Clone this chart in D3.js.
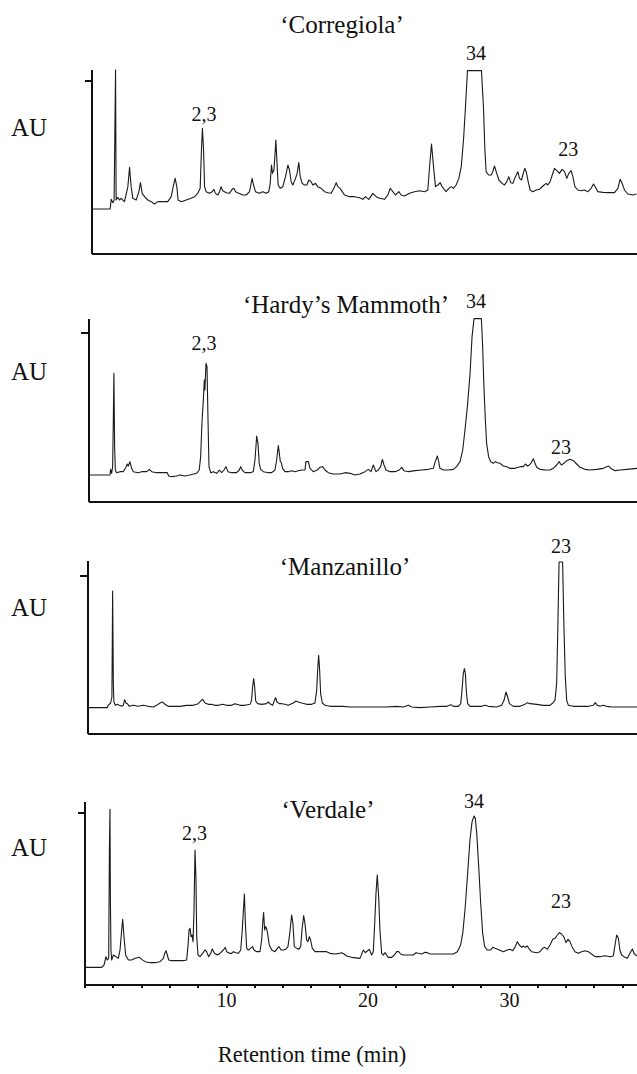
<!DOCTYPE html>
<html lang="en">
<head>
<meta charset="UTF-8">
<title>Chromatograms</title>
<script src="https://d3js.org/d3.v7.min.js"></script>
<style>
  body { margin: 0; background: #fff; }
  svg { display: block; font-family: "Liberation Serif", "Tinos", "Times New Roman", "DejaVu Serif", serif; }
  text { fill: #111; }
  .axis path, .axis line { stroke: #111; stroke-width: 2; shape-rendering: crispEdges; }
  .axis text { font-size: 20px; font-family: "Liberation Serif", "Tinos", "Times New Roman", "DejaVu Serif", serif; fill: #111; }
  .trace { fill: none; stroke: #1a1a1a; stroke-width: 1.1; stroke-linejoin: round; }
</style>
</head>
<body>
<div id="chart"></div>
<script>
const serif = "'Liberation Serif', 'Tinos', 'Times New Roman', 'DejaVu Serif', serif";

// cultivar names
const cultivars = ["\u2018Corregiola\u2019", "\u2018Hardy\u2019s Mammoth\u2019", "\u2018Manzanillo\u2019", "\u2018Verdale\u2019"];

// traces: [retention time (min), absorbance (AU)]
const corregiola = [
  [0,0.264],[1.32,0.264],[1.39,0.322],[1.51,0.302],[1.60,0.318],[1.65,0.718],[1.70,1.098],[1.74,0.318],
  [1.86,0.334],[1.98,0.318],[2.10,0.328],[2.33,0.308],[2.57,0.398],[2.69,0.514],[2.80,0.398],[2.92,0.328],
  [3.16,0.318],[3.35,0.368],[3.46,0.422],[3.58,0.358],[3.75,0.338],[3.98,0.318],[4.22,0.308],[4.45,0.294],
  [4.69,0.308],[5.04,0.308],[5.39,0.308],[5.63,0.338],[5.80,0.408],[5.91,0.448],[6.03,0.398],[6.12,0.318],
  [6.34,0.308],[6.69,0.318],[7.04,0.328],[7.28,0.338],[7.51,0.358],[7.68,0.388],[7.77,0.618],[7.84,0.748],
  [7.92,0.618],[7.99,0.398],[8.10,0.368],[8.34,0.358],[8.53,0.368],[8.65,0.382],[8.76,0.358],[8.93,0.348],
  [9.05,0.368],[9.16,0.398],[9.28,0.374],[9.52,0.362],[9.75,0.358],[9.94,0.382],[10.06,0.388],[10.18,0.368],
  [10.41,0.358],[10.70,0.348],[10.93,0.348],[11.17,0.368],[11.26,0.408],[11.35,0.448],[11.45,0.408],[11.59,0.368],
  [11.87,0.358],[12.11,0.368],[12.34,0.358],[12.53,0.368],[12.63,0.418],[12.72,0.528],[12.79,0.478],[12.89,0.498],
  [12.96,0.578],[13.03,0.678],[13.10,0.558],[13.19,0.408],[13.33,0.388],[13.52,0.398],[13.71,0.458],[13.88,0.528],
  [13.99,0.498],[14.11,0.428],[14.23,0.408],[14.42,0.448],[14.53,0.478],[14.65,0.542],[14.75,0.458],[14.89,0.418],
  [15.05,0.408],[15.22,0.408],[15.36,0.438],[15.52,0.428],[15.64,0.408],[15.83,0.418],[15.99,0.398],[16.23,0.388],
  [16.47,0.368],[16.70,0.362],[16.94,0.358],[17.13,0.388],[17.29,0.422],[17.41,0.398],[17.57,0.388],[17.72,0.368],
  [17.88,0.348],[18.23,0.338],[18.59,0.338],[18.94,0.332],[19.18,0.322],[19.36,0.338],[19.60,0.322],[19.88,0.358],
  [20.12,0.338],[20.35,0.328],[20.71,0.322],[20.94,0.348],[21.11,0.388],[21.30,0.368],[21.48,0.348],[21.72,0.368],
  [21.88,0.348],[22.12,0.342],[22.47,0.358],[22.83,0.368],[23.18,0.374],[23.53,0.368],[23.77,0.378],[23.89,0.518],
  [24.03,0.654],[24.17,0.518],[24.31,0.398],[24.48,0.408],[24.64,0.422],[24.78,0.398],[24.95,0.378],[25.06,0.368],
  [25.25,0.388],[25.42,0.398],[25.58,0.388],[25.77,0.408],[25.96,0.448],[26.13,0.518],[26.29,0.678],[26.43,0.878],
  [26.57,1.094],[27.56,1.094],[27.70,0.878],[27.80,0.618],[27.89,0.488],[28.06,0.468],[28.24,0.468],[28.36,0.488],
  [28.48,0.522],[28.60,0.488],[28.79,0.438],[29.02,0.418],[29.19,0.408],[29.35,0.428],[29.49,0.458],[29.63,0.422],
  [29.78,0.418],[29.96,0.458],[30.13,0.488],[30.25,0.448],[30.39,0.438],[30.48,0.468],[30.62,0.508],[30.72,0.488],
  [30.86,0.428],[31.00,0.378],[31.19,0.368],[31.43,0.378],[31.66,0.382],[31.90,0.402],[32.13,0.418],[32.25,0.408],
  [32.41,0.428],[32.56,0.468],[32.72,0.508],[32.89,0.494],[33.07,0.478],[33.26,0.502],[33.43,0.488],[33.59,0.448],
  [33.73,0.478],[33.90,0.494],[34.02,0.458],[34.16,0.398],[34.37,0.378],[34.61,0.374],[34.84,0.378],[35.08,0.368],
  [35.31,0.388],[35.48,0.414],[35.62,0.394],[35.78,0.368],[36.14,0.364],[36.61,0.362],[36.96,0.362],[37.20,0.388],
  [37.36,0.442],[37.50,0.418],[37.67,0.378],[37.90,0.354],[38.26,0.348],[38.52,0.354]
];

const hardysMammoth = [
  [0,0.156],[1.53,0.156],[1.58,0.190],[1.65,0.166],[1.72,0.206],[1.77,0.496],[1.81,0.766],[1.86,0.326],
  [1.91,0.186],[2.00,0.170],[2.24,0.176],[2.47,0.176],[2.66,0.202],[2.76,0.222],[2.83,0.210],[2.94,0.236],
  [3.06,0.196],[3.18,0.176],[3.53,0.170],[3.77,0.176],[4.12,0.176],[4.31,0.190],[4.48,0.176],[4.83,0.170],
  [5.58,0.170],[5.68,0.150],[5.89,0.146],[6.24,0.150],[6.48,0.156],[6.83,0.150],[7.18,0.156],[7.66,0.166],
  [7.84,0.186],[7.94,0.266],[8.03,0.466],[8.13,0.606],[8.20,0.726],[8.24,0.666],[8.32,0.826],[8.39,0.806],
  [8.46,0.486],[8.53,0.206],[8.65,0.170],[8.83,0.176],[9.07,0.166],[9.26,0.186],[9.42,0.170],[9.59,0.186],
  [9.73,0.206],[9.87,0.176],[10.13,0.170],[10.48,0.170],[10.67,0.186],[10.77,0.206],[10.91,0.182],[11.07,0.170],
  [11.43,0.170],[11.66,0.176],[11.78,0.246],[11.90,0.390],[11.99,0.346],[12.08,0.226],[12.18,0.190],[12.37,0.176],
  [12.72,0.170],[12.96,0.170],[13.19,0.186],[13.31,0.246],[13.43,0.332],[13.50,0.286],[13.57,0.236],[13.64,0.230],
  [13.73,0.196],[13.90,0.176],[14.13,0.176],[14.37,0.182],[14.61,0.176],[14.84,0.182],[15.08,0.186],[15.31,0.186],
  [15.38,0.236],[15.55,0.236],[15.67,0.196],[15.90,0.176],[16.18,0.186],[16.37,0.202],[16.56,0.206],[16.73,0.186],
  [16.96,0.170],[17.31,0.162],[17.79,0.162],[18.14,0.170],[18.49,0.166],[18.85,0.156],[19.20,0.162],[19.55,0.176],
  [19.79,0.190],[19.98,0.176],[20.14,0.216],[20.33,0.176],[20.50,0.186],[20.66,0.206],[20.78,0.250],[20.90,0.216],
  [21.04,0.186],[21.32,0.176],[21.67,0.176],[21.98,0.186],[22.15,0.202],[22.31,0.182],[22.62,0.176],[23.09,0.182],
  [23.56,0.186],[24.03,0.190],[24.38,0.196],[24.52,0.236],[24.67,0.270],[24.76,0.236],[24.85,0.196],[25.09,0.186],
  [25.44,0.186],[25.80,0.190],[26.03,0.206],[26.27,0.236],[26.46,0.306],[26.62,0.426],[26.79,0.566],[26.98,0.766],
  [27.12,0.986],[27.26,1.094],[27.78,1.094],[27.87,0.926],[27.96,0.686],[28.06,0.486],[28.15,0.346],[28.29,0.266],
  [28.44,0.236],[28.62,0.226],[28.77,0.236],[28.91,0.230],[29.10,0.226],[29.33,0.210],[29.57,0.206],[29.80,0.196],
  [30.16,0.196],[30.51,0.206],[30.74,0.206],[30.89,0.222],[31.03,0.210],[31.17,0.216],[31.31,0.230],[31.45,0.254],
  [31.57,0.226],[31.69,0.202],[31.92,0.190],[32.28,0.186],[32.63,0.186],[32.86,0.196],[33.10,0.216],[33.27,0.236],
  [33.43,0.216],[33.62,0.226],[33.81,0.242],[34.04,0.250],[34.28,0.242],[34.51,0.222],[34.75,0.202],[35.10,0.190],
  [35.46,0.186],[35.93,0.190],[36.40,0.196],[36.63,0.206],[36.78,0.210],[36.92,0.196],[37.22,0.182],[37.58,0.186],
  [38.05,0.190],[38.78,0.196]
];

const manzanillo = [
  [0,0.152],[1.41,0.152],[1.48,0.166],[1.65,0.180],[1.74,0.216],[1.79,0.852],[1.84,0.296],[1.88,0.186],
  [1.98,0.166],[2.12,0.172],[2.26,0.166],[2.43,0.160],[2.54,0.166],[2.64,0.200],[2.73,0.180],[2.83,0.176],
  [2.97,0.160],[3.25,0.166],[3.60,0.160],[3.96,0.166],[4.31,0.160],[4.66,0.156],[4.90,0.166],[5.14,0.180],
  [5.32,0.186],[5.49,0.172],[5.72,0.160],[6.55,0.160],[7.02,0.166],[7.49,0.166],[7.84,0.176],[8.01,0.192],
  [8.15,0.202],[8.32,0.180],[8.55,0.172],[8.79,0.172],[9.02,0.166],[9.26,0.166],[9.56,0.172],[9.85,0.166],
  [10.20,0.166],[10.44,0.176],[10.55,0.172],[10.79,0.166],[11.14,0.166],[11.50,0.172],[11.61,0.196],[11.68,0.276],
  [11.76,0.326],[11.83,0.276],[11.90,0.192],[12.04,0.176],[12.32,0.172],[12.67,0.176],[12.79,0.186],[12.91,0.176],
  [13.10,0.166],[13.22,0.196],[13.31,0.212],[13.40,0.186],[13.57,0.176],[13.73,0.176],[13.97,0.172],[14.20,0.166],
  [14.56,0.180],[14.75,0.192],[14.91,0.186],[15.15,0.180],[15.50,0.172],[15.85,0.172],[16.09,0.180],[16.21,0.256],
  [16.28,0.376],[16.35,0.466],[16.42,0.376],[16.49,0.236],[16.61,0.180],[16.80,0.166],[17.15,0.160],[18.09,0.160],
  [18.56,0.156],[19.27,0.156],[20.21,0.156],[21.16,0.156],[21.86,0.160],[22.33,0.156],[22.69,0.166],[22.92,0.156],
  [23.51,0.152],[24.22,0.156],[24.93,0.160],[25.40,0.160],[25.70,0.170],[25.87,0.160],[26.22,0.160],[26.39,0.176],
  [26.48,0.256],[26.57,0.356],[26.65,0.386],[26.72,0.356],[26.79,0.246],[26.88,0.176],[27.05,0.160],[27.87,0.160],
  [28.11,0.166],[28.34,0.160],[28.93,0.156],[29.28,0.166],[29.45,0.196],[29.59,0.246],[29.71,0.216],[29.83,0.176],
  [30.11,0.160],[30.58,0.160],[30.93,0.172],[31.10,0.182],[31.29,0.176],[31.76,0.172],[32.23,0.166],[32.70,0.166],
  [32.89,0.180],[33.05,0.196],[33.17,0.296],[33.24,0.576],[33.34,1.026],[33.59,1.026],[33.69,0.616],[33.78,0.336],
  [33.88,0.196],[34.00,0.166],[34.35,0.160],[35.41,0.160],[35.76,0.166],[35.90,0.182],[36.04,0.166],[36.23,0.160],
  [36.47,0.166],[36.70,0.160],[37.06,0.156],[38.85,0.156]
];

const verdale = [
  [0,0.100],[1.21,0.100],[1.38,0.114],[1.52,0.164],[1.61,0.144],[1.71,0.154],[1.76,0.804],[1.80,1.048],
  [1.83,0.504],[1.85,0.354],[1.87,0.204],[1.92,0.144],[2.04,0.174],[2.23,0.164],[2.39,0.154],[2.51,0.204],
  [2.63,0.324],[2.70,0.388],[2.79,0.284],[2.91,0.174],[3.10,0.144],[3.33,0.144],[3.57,0.154],[3.88,0.160],
  [4.04,0.148],[4.28,0.134],[4.63,0.128],[4.98,0.128],[5.34,0.134],[5.57,0.154],[5.69,0.188],[5.76,0.200],
  [5.85,0.174],[5.95,0.144],[6.16,0.140],[6.98,0.140],[7.22,0.144],[7.31,0.224],[7.39,0.324],[7.46,0.334],
  [7.53,0.284],[7.60,0.294],[7.67,0.254],[7.74,0.444],[7.81,0.804],[7.88,0.624],[7.93,0.284],[8.02,0.174],
  [8.16,0.164],[8.35,0.184],[8.52,0.204],[8.63,0.194],[8.77,0.164],[8.92,0.184],[9.03,0.210],[9.18,0.184],
  [9.39,0.174],[9.58,0.184],[9.81,0.204],[9.95,0.220],[10.05,0.194],[10.24,0.184],[10.40,0.184],[10.52,0.194],
  [10.71,0.188],[10.87,0.184],[11.04,0.204],[11.15,0.324],[11.23,0.444],[11.30,0.540],[11.37,0.364],[11.46,0.214],
  [11.58,0.204],[11.74,0.214],[11.88,0.224],[11.98,0.204],[12.17,0.194],[12.40,0.194],[12.52,0.264],[12.61,0.384],
  [12.66,0.428],[12.73,0.324],[12.80,0.344],[12.87,0.334],[12.94,0.304],[13.06,0.234],[13.23,0.204],[13.46,0.194],
  [13.63,0.214],[13.75,0.224],[13.89,0.204],[14.05,0.204],[14.22,0.208],[14.38,0.224],[14.52,0.314],[14.64,0.414],
  [14.73,0.364],[14.83,0.224],[14.99,0.214],[15.14,0.208],[15.28,0.224],[15.37,0.324],[15.49,0.410],[15.58,0.364],
  [15.70,0.264],[15.79,0.254],[15.89,0.284],[15.98,0.264],[16.10,0.214],[16.29,0.194],[17.11,0.194],[17.35,0.184],
  [17.70,0.180],[18.01,0.184],[18.17,0.188],[18.34,0.180],[18.53,0.168],[18.88,0.160],[19.47,0.154],[19.61,0.184],
  [19.71,0.204],[19.85,0.188],[19.99,0.198],[20.13,0.208],[20.29,0.174],[20.41,0.194],[20.51,0.364],[20.60,0.544],
  [20.69,0.654],[20.79,0.524],[20.88,0.324],[21.00,0.184],[21.12,0.174],[21.24,0.188],[21.35,0.174],[21.47,0.160],
  [21.71,0.160],[21.90,0.174],[22.06,0.194],[22.20,0.194],[22.34,0.180],[22.53,0.174],[23.24,0.174],[23.43,0.188],
  [23.59,0.184],[23.83,0.180],[24.06,0.190],[24.23,0.188],[24.42,0.180],[26.07,0.180],[26.35,0.194],[26.58,0.234],
  [26.73,0.304],[26.89,0.444],[27.06,0.644],[27.24,0.864],[27.39,0.974],[27.53,1.008],[27.62,0.994],[27.72,0.904],
  [27.86,0.704],[28.00,0.484],[28.14,0.304],[28.28,0.224],[28.47,0.204],[28.70,0.204],[28.85,0.220],[29.01,0.214],
  [29.32,0.204],[29.60,0.194],[29.88,0.204],[30.07,0.208],[30.26,0.200],[30.42,0.220],[30.59,0.254],[30.73,0.234],
  [30.90,0.220],[31.01,0.228],[31.15,0.220],[31.30,0.228],[31.44,0.208],[31.60,0.194],[31.96,0.188],[32.19,0.194],
  [32.38,0.214],[32.54,0.220],[32.71,0.208],[32.90,0.234],[33.09,0.268],[33.25,0.274],[33.42,0.294],[33.56,0.308],
  [33.72,0.300],[33.89,0.280],[34.03,0.248],[34.17,0.268],[34.31,0.254],[34.45,0.224],[34.66,0.194],[34.90,0.184],
  [35.14,0.194],[35.37,0.200],[35.61,0.194],[35.83,0.180],[36.08,0.164],[36.43,0.164],[36.78,0.170],[37.14,0.164],
  [37.37,0.168],[37.51,0.244],[37.61,0.294],[37.73,0.274],[37.84,0.204],[37.96,0.174],[38.20,0.160],[38.36,0.154],
  [38.55,0.184],[38.72,0.210],[38.86,0.180],[39.05,0.168]
];

// peak labels: text and retention time (min)
const labelsCorregiola = [{ text: "2,3", t: 7.95 }, { text: "34", t: 27.17 }, { text: "23", t: 33.7 }];
const labelsHardys = [{ text: "2,3", t: 8.18 }, { text: "34", t: 27.4 }, { text: "23", t: 33.4 }];
const labelsManzanillo = [{ text: "23", t: 33.48 }];
const labelsVerdale = [{ text: "2,3", t: 7.77 }, { text: "34", t: 27.53 }, { text: "23", t: 33.68 }];

// y-axis tick and top of y-axis (AU)
const tickAU = [1.032, 1.012, 0.946, 1.026];
const topAU = [1.098, 1.096, 1.036, 1.094];

// x-axis ticks (min)
const xTicks = d3.range(2, 40, 2);
const xTickLabels = [10, 20, 30];

const traces = [corregiola, hardysMammoth, manzanillo, verdale];
const labelSets = [labelsCorregiola, labelsHardys, labelsManzanillo, labelsVerdale];

// layout (pixels)
const W = 637, H = 1074;
const pxPerMin = 14.15, pxPerAU = 166.67;
const layout = [
  { x0: 91.5, y0: 253, titleX: 342, titleY: 33, auY: 136, gaps: [7, 10.7, 13] },
  { x0: 88.3, y0: 501, titleX: 346, titleY: 313, auY: 380, gaps: [13, 10.7, 7] },
  { x0: 87.3, y0: 733, titleX: 345, titleY: 575, auY: 616, gaps: [9] },
  { x0: 84.5, y0: 984, titleX: 328, titleY: 818, auY: 856, gaps: [10, 8, 24.7] }
];

const svg = d3.select("#chart").append("svg")
  .attr("width", W).attr("height", H);

traces.forEach((trace, i) => {
  const L = layout[i];
  const tMax = (W - L.x0) / pxPerMin;
  const x = d3.scaleLinear().domain([0, tMax]).range([0, W - L.x0]);
  const y = d3.scaleLinear().domain([0, topAU[i]]).range([L.y0, L.y0 - topAU[i] * pxPerAU]);

  const g = svg.append("g").attr("transform", `translate(${L.x0},0)`);

  // trace
  g.append("path")
    .datum(trace)
    .attr("class", "trace")
    .attr("d", d3.line().x(d => x(d[0])).y(d => y(d[1])));

  // y axis with a single tick
  g.append("g").attr("class", "axis")
    .call(d3.axisLeft(y).tickValues([tickAU[i]]).tickSize(7).tickSizeOuter(0).tickFormat(""));

  // x axis
  const xAxis = d3.axisBottom(x).tickSizeOuter(0);
  if (i === 3) {
    xAxis.tickValues(xTicks).tickSize(4).tickPadding(5)
      .tickFormat(d => xTickLabels.includes(d) ? d : "");
  } else {
    xAxis.tickValues([]);
  }
  g.append("g").attr("class", "axis")
    .attr("transform", `translate(0,${L.y0})`)
    .call(xAxis)
    .attr("font-family", serif);

  // peak labels above local maximum
  labelSets[i].forEach((lab, k) => {
    const near = trace.filter(d => Math.abs(d[0] - lab.t) <= 0.5);
    const vmax = d3.max(near, d => d[1]);
    g.append("text")
      .attr("x", x(lab.t))
      .attr("y", y(vmax) - L.gaps[k])
      .attr("text-anchor", "middle")
      .attr("font-family", serif)
      .style("font-size", "20px")
      .text(lab.text);
  });

  // cultivar title
  svg.append("text")
    .attr("x", L.titleX).attr("y", L.titleY)
    .attr("text-anchor", "middle")
    .attr("font-family", serif)
    .style("font-size", "25px")
    .text(cultivars[i]);

  // AU label
  svg.append("text")
    .attr("x", 11).attr("y", L.auY)
    .attr("font-family", serif)
    .style("font-size", "25px")
    .text("AU");
});

// x-axis title
svg.append("text")
  .attr("x", 312).attr("y", 1062)
  .attr("text-anchor", "middle")
  .attr("font-family", serif)
  .style("font-size", "22.5px")
  .text("Retention time (min)");
</script>
</body>
</html>
